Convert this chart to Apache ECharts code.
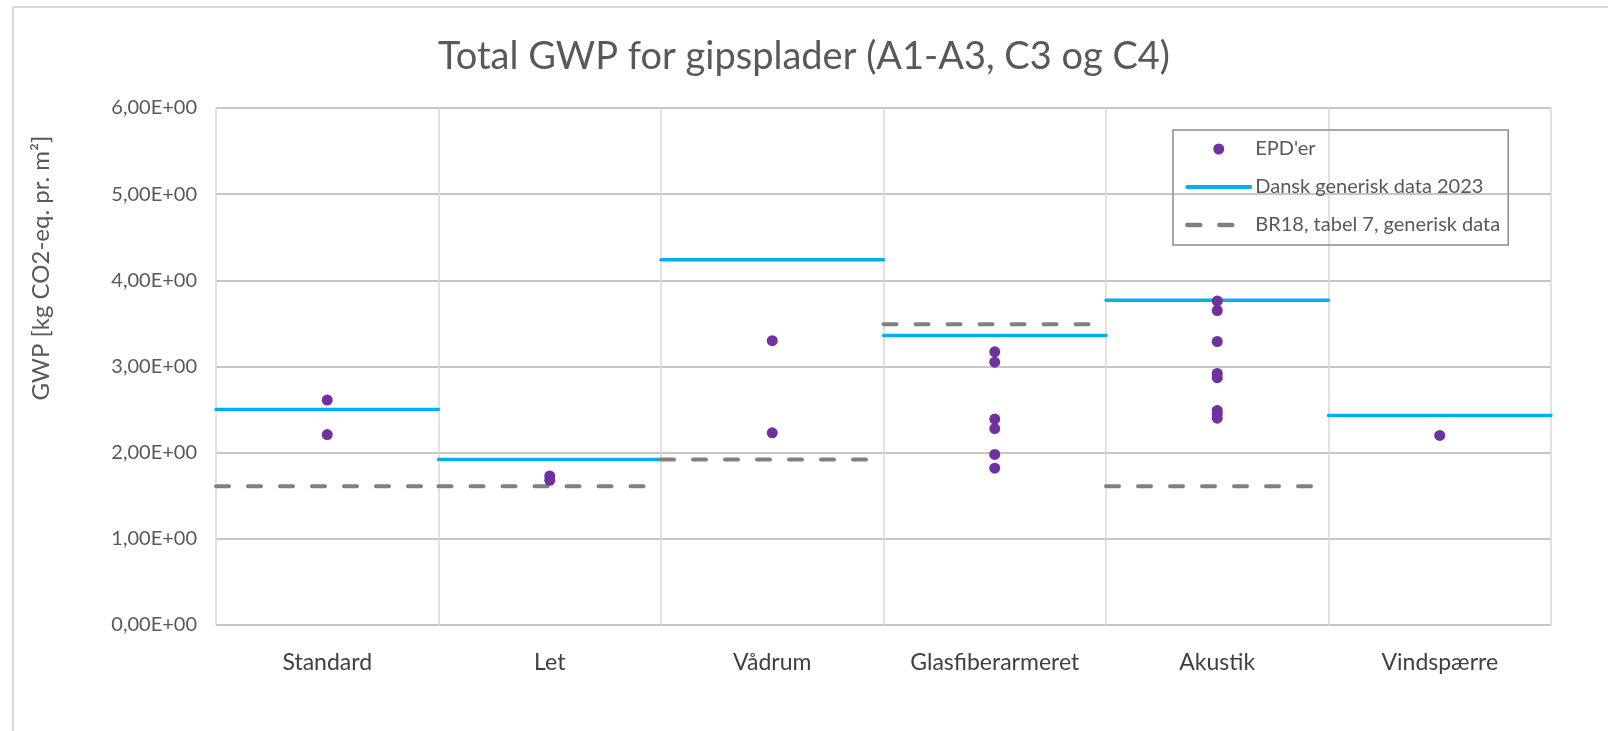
<!DOCTYPE html>
<html>
<head>
<meta charset="utf-8">
<script src="https://cdn.jsdelivr.net/npm/echarts@6/dist/echarts.min.js"></script>
<style>
  html, body { margin: 0; padding: 0; background: #fff; }
  #chart { width: 1608px; height: 731px; }
</style>
</head>
<body>
<div id="chart"></div>
<script>
// categories on the x axis
const categories = ["Standard", "Let", "Vådrum", "Glasfiberarmeret", "Akustik", "Vindspærre"];
// EPD values, one list per category
const epdValues = [
  [2.61, 2.21],
  [1.73, 1.68],
  [3.30, 2.23],
  [3.17, 3.05, 2.39, 2.28, 1.98, 1.82],
  [3.76, 3.65, 3.29, 2.92, 2.87, 2.49, 2.45, 2.40],
  [2.20]
];
// Dansk generisk data 2023, one value per category
const danskGenerisk = [2.50, 1.92, 4.24, 3.36, 3.77, 2.43];
// BR18, tabel 7, generisk data (none for Vindspærre)
const br18Generisk = [1.61, 1.61, 1.92, 3.49, 1.61, null];
const yTicks = [0, 1, 2, 3, 4, 5, 6];

const FONT = "Lato";

// scatter points sit at the middle of each category band
const scatterData = [];
epdValues.forEach((vals, i) => {
  vals.forEach((v) => scatterData.push([i + 0.5, v]));
});

// horizontal segment spanning a full category band, broken between bands
function segments(values) {
  const out = [];
  values.forEach((v, i) => {
    if (v === null) return;
    out.push([i, v], [i + 1, v], [i + 1, "-"]);
  });
  return out;
}

const chart = echarts.init(document.getElementById("chart"), null, { renderer: "canvas" });

const option = {
  animation: false,
  backgroundColor: "#ffffff",
  textStyle: { fontFamily: FONT },
  title: {
    text: "Total GWP for gipsplader (A1-A3, C3 og C4)",
    left: "center",
    top: 33,
    textStyle: { fontFamily: FONT, fontSize: 38, fontWeight: "normal", color: "#595959" }
  },
  legend: {
    orient: "vertical",
    left: 1173,
    top: 130,
    padding: [9, 8, 10, 12],
    itemGap: 18,
    itemWidth: 63,
    itemHeight: 11,
    borderColor: "#8c8c8c",
    borderWidth: 1.5,
    textStyle: { fontFamily: FONT, fontSize: 20, color: "#595959" },
    data: [
      { name: "EPD'er" },
      {
        name: "Dansk generisk data 2023",
        itemStyle: { opacity: 0 },
        lineStyle: { width: 4, cap: "round" }
      },
      {
        name: "BR18, tabel 7, generisk data",
        itemStyle: { opacity: 0 },
        lineStyle: { width: 4.5, type: [13, 19], cap: "round" }
      }
    ]
  },
  graphic: [
    {
      type: "rect",
      shape: { x: 13, y: 7, width: 1640, height: 760 },
      style: { fill: null, stroke: "#d9d9d9", lineWidth: 2 },
      silent: true
    },
    {
      type: "text",
      x: 41,
      y: 268,
      rotation: Math.PI / 2,
      style: {
        text: "GWP [kg CO2-eq. pr. m²]",
        fontFamily: FONT,
        fontSize: 24,
        fill: "#595959",
        align: "center",
        verticalAlign: "middle"
      }
    }
  ],
  grid: { left: 216, right: 57, top: 108, bottom: 106 },
  xAxis: [
    {
      type: "value",
      min: 0,
      max: 6,
      interval: 1,
      axisLine: { show: false },
      axisTick: { show: false },
      axisLabel: { show: false },
      splitLine: { show: true, lineStyle: { color: "#d9d9d9", width: 1.5 } }
    },
    {
      type: "category",
      data: categories,
      position: "bottom",
      boundaryGap: true,
      axisLine: { show: false },
      axisTick: { show: false },
      splitLine: { show: false },
      axisLabel: { margin: 26, fontFamily: FONT, fontSize: 23, color: "#404040" }
    }
  ],
  yAxis: {
    type: "value",
    min: yTicks[0],
    max: yTicks[yTicks.length - 1],
    interval: 1,
    axisLine: { show: false },
    axisTick: { show: false },
    splitLine: { show: true, lineStyle: { color: "#b3b3b3", width: 1.5 } },
    axisLabel: {
      margin: 19,
      fontFamily: FONT,
      fontSize: 20,
      color: "#595959",
      formatter: (v) => v.toFixed(2).replace(".", ",") + "E+00"
    }
  },
  series: [
    {
      name: "EPD'er",
      type: "scatter",
      xAxisIndex: 0,
      data: scatterData,
      symbol: "circle",
      symbolSize: 11,
      itemStyle: { color: "#7030a0", opacity: 1 },
      z: 5
    },
    {
      name: "Dansk generisk data 2023",
      type: "line",
      xAxisIndex: 0,
      data: segments(danskGenerisk),
      showSymbol: false,
      symbol: "none",
      connectNulls: false,
      lineStyle: { color: "#00b0f0", width: 3.5, cap: "round" },
      itemStyle: { color: "#00b0f0" },
      z: 3
    },
    {
      name: "BR18, tabel 7, generisk data",
      type: "line",
      xAxisIndex: 0,
      data: segments(br18Generisk),
      showSymbol: false,
      symbol: "none",
      connectNulls: false,
      lineStyle: { color: "#808080", width: 4, type: [13, 19], cap: "round" },
      itemStyle: { color: "#808080" },
      z: 3
    }
  ]
};

chart.setOption(option);
</script>
</body>
</html>
